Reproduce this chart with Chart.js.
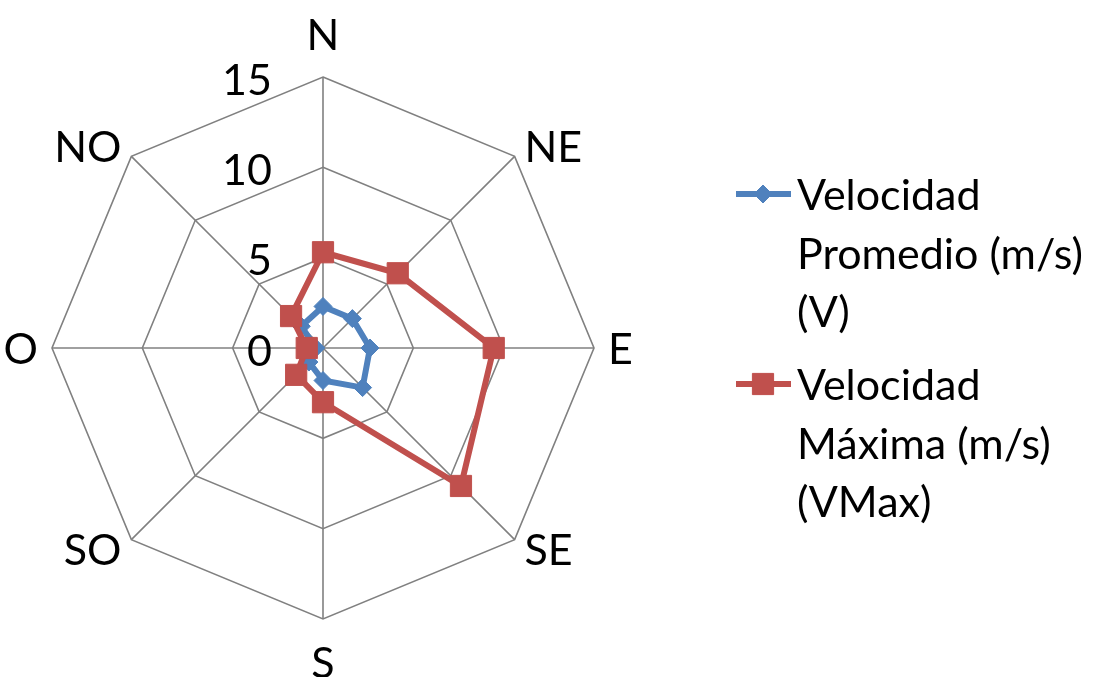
<!DOCTYPE html>
<html>
<head>
<meta charset="utf-8">
<script src="https://cdn.jsdelivr.net/npm/chart.js@4"></script>
<style>
  body { margin: 0; background: #fff; }
  #wrap { width: 1103px; height: 677px; position: relative; }
</style>
</head>
<body>
<div id="wrap"><canvas id="Rosa_Vientos"></canvas></div>
<script>
// datos de la rosa de vientos
const direcciones = ['N', 'NE', 'E', 'SE', 'S', 'SO', 'O', 'NO'];
const velPromedio = [2.3, 2.3, 2.6, 3.1, 1.8, 1.1, 0.4, 1.7];
const velMaxima = [5.3, 5.85, 9.45, 10.8, 3.0, 2.1, 0.9, 2.5];
const marcasEje = [0, 5, 10, 15];
const nombrePromedio = ['Velocidad', 'Promedio (m/s)', '(V)'];
const nombreMaxima = ['Velocidad', 'Máxima (m/s)', '(VMax)'];

const fuente = '43px Lato';

// textos (ejes, marcas y leyenda) dibujados encima del grafico
const textos = {
  id: 'textos',
  afterDraw(chart) {
    const ctx = chart.ctx;
    const r = chart.scales.r;
    ctx.save();
    ctx.font = fuente;
    ctx.fillStyle = '#000';
    const capH = ctx.measureText('H').actualBoundingBoxAscent;

    // marcas del eje
    ctx.textAlign = 'right';
    ctx.textBaseline = 'alphabetic';
    marcasEje.forEach(v => {
      const p = r.getPointPositionForValue(0, v);
      ctx.fillText(String(v), p.x - 51, p.y + capH / 2 + 2);
    });

    // direcciones
    direcciones.forEach((d, i) => {
      const p = r.getPointPosition(i, r.drawingArea + 14);
      const ang = r.getIndexAngle(i);
      const s = Math.sin(ang), c = Math.cos(ang);
      let y = p.y;
      if (Math.abs(s) < 0.01) {
        ctx.textAlign = 'center';
        y = p.y - c * 29;
      } else {
        ctx.textAlign = s > 0 ? 'left' : 'right';
      }
      ctx.fillText(d, p.x, y + capH / 2);
    });

    // leyenda
    ctx.textAlign = 'left';
    chart.data.datasets.forEach((ds, k) => {
      const y0 = 194 + k * 190;
      ctx.strokeStyle = ds.borderColor;
      ctx.lineWidth = ds.borderWidth;
      ctx.beginPath();
      ctx.moveTo(736, y0);
      ctx.lineTo(791, y0);
      ctx.stroke();
      ctx.fillStyle = ds.pointBackgroundColor;
      ctx.strokeStyle = ds.pointBorderColor;
      ctx.lineWidth = 1;
      Chart.helpers.drawPoint(ctx, {pointStyle: ds.pointStyle, radius: ds.pointRadius, rotation: 0, borderWidth: 1}, 763, y0);
      ctx.fillStyle = '#000';
      ds.lineas.forEach((t, j) => {
        ctx.fillText(t, 797, 210 + k * 190 + j * 58.5);
      });
    });
    ctx.restore();
  }
};

const ctx = document.getElementById('Rosa_Vientos');

const Rosa_Vientos = new Chart(ctx, {
  type: 'radar',
  data: {
    labels: direcciones,
    datasets: [{
      label: nombrePromedio.join(' '),
      lineas: nombrePromedio,
      data: velPromedio,
      borderColor: '#4F81BD',
      backgroundColor: '#4F81BD',
      pointBackgroundColor: '#4F81BD',
      pointBorderColor: '#4F81BD',
      borderWidth: 6,
      pointStyle: 'rectRot',
      pointRadius: 9,
      pointBorderWidth: 1,
      fill: false,
      order: 2
    }, {
      label: nombreMaxima.join(' '),
      lineas: nombreMaxima,
      data: velMaxima,
      borderColor: '#C0504D',
      backgroundColor: '#C0504D',
      pointBackgroundColor: '#C0504D',
      pointBorderColor: '#C0504D',
      borderWidth: 6,
      pointStyle: 'rect',
      pointRadius: 15,
      pointBorderWidth: 1,
      fill: false,
      order: 1
    }]
  },
  options: {
    responsive: true,
    maintainAspectRatio: false,
    animation: false,
    layout: {
      padding: { left: 52, right: 509, top: 77, bottom: 58 }
    },
    plugins: {
      legend: { display: false },
      tooltip: { enabled: false }
    },
    scales: {
      r: {
        min: 0,
        max: 15,
        ticks: { stepSize: 5, display: false },
        pointLabels: { display: false },
        grid: { color: '#808080', lineWidth: 1.6 },
        angleLines: { color: '#808080', lineWidth: 1.6 }
      }
    }
  },
  plugins: [textos]
});
</script>
</body>
</html>
